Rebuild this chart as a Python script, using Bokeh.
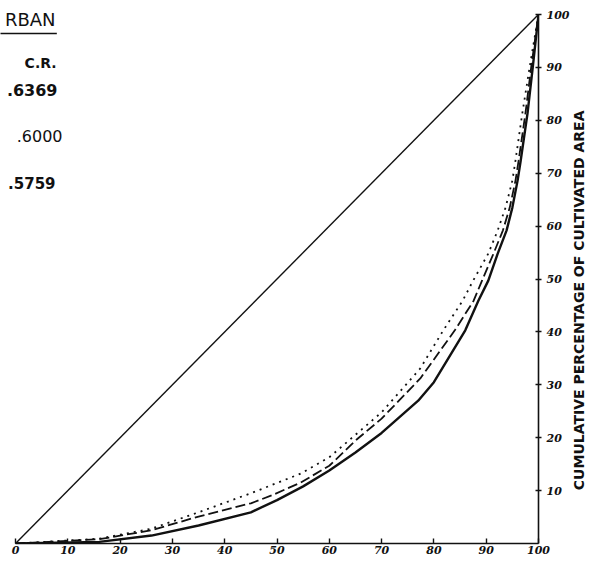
import math
from bokeh.plotting import figure
from bokeh.layouts import row
from bokeh.models import Range1d, FixedTicker, Label
from bokeh.embed import file_html
from bokeh.resources import INLINE

# ---- data ----
x_ticks = [0, 10, 20, 30, 40, 50, 60, 70, 80, 90, 100]
y_ticks = [10, 20, 30, 40, 50, 60, 70, 80, 90, 100]

equality_x = [0, 100]
equality_y = [0, 100]

# C.R. .6369 (solid, lowest curve)
x_cr6369 = [0, 16, 26, 35, 45, 50, 55, 60, 65, 70, 77, 80, 86, 88.5, 90.4, 92.2, 93.9, 95.0, 96.0, 96.6, 97.9, 98.9, 100]
y_cr6369 = [0, 0.3, 1.5, 3.4, 5.9, 8.2, 10.8, 13.8, 17.2, 20.9, 27.0, 30.5, 40.3, 45.9, 49.7, 54.8, 59.2, 63.5, 68.6, 72.4, 81.3, 90, 100]

# C.R. .6000 (dashed, middle curve)
x_cr6000 = [0, 16, 26, 35, 45, 49, 54.5, 60, 65.4, 70, 77.4, 84, 87.6, 89.2, 91.4, 93.2, 94.5, 95.6, 96.2, 97.5, 98.6, 100]
y_cr6000 = [0, 0.8, 2.5, 5.1, 7.6, 9.1, 11.5, 14.7, 19.8, 23.6, 31.2, 40.3, 45.9, 49.7, 54.8, 59.2, 63.5, 68.6, 72.4, 81.3, 90, 100]

# C.R. .5759 (dotted, highest curve)
x_cr5759 = [0, 16, 26, 35, 45, 54.5, 60, 70, 77.4, 81.8, 85.5, 87.5, 90.4, 92.2, 93.7, 95.0, 95.6, 96.9, 98.3, 100]
y_cr5759 = [0, 0.9, 2.8, 5.9, 9.5, 13.2, 16.3, 24.8, 33.1, 40.3, 45.9, 49.7, 54.8, 59.2, 63.5, 68.6, 72.4, 81.3, 90, 100]

legend_title = "RBAN"
legend_head = "C.R."
legend_values = [".6369", ".6000", ".5759"]
y_title = "CUMULATIVE PERCENTAGE OF CULTIVATED AREA"

INK = "#111111"

p = figure(frame_width=538, frame_height=543,
           x_range=Range1d(-2.87, 100), y_range=Range1d(0, 102.65),
           y_axis_location="right", output_backend="svg",
           toolbar_location=None,
           min_border_left=0, min_border_top=0, min_border_right=0,
           min_border_bottom=0)
p.background_fill_color = "white"
p.border_fill_color = "white"
p.outline_line_color = None
p.grid.visible = False

# axes
xa = p.xaxis[0]
xa.ticker = FixedTicker(ticks=x_ticks)
xa.bounds = (0, 100)
xa.minor_tick_line_color = None
xa.major_tick_in = 5
xa.major_tick_out = 0
xa.major_label_standoff = 2
xa.axis_line_color = INK
xa.axis_line_width = 1.6
xa.major_tick_line_color = INK
xa.major_tick_line_width = 1.4
xa.major_label_text_font = "DejaVu Serif"
xa.major_label_text_font_style = "bold italic"
xa.major_label_text_font_size = "11px"
xa.major_label_text_color = INK

ya = p.yaxis[0]
ya.ticker = FixedTicker(ticks=y_ticks)
ya.bounds = (0, 100)
ya.minor_tick_line_color = None
ya.major_tick_in = 3
ya.major_tick_out = 3
ya.major_label_standoff = 5
ya.axis_line_color = INK
ya.axis_line_width = 1.6
ya.major_tick_line_color = INK
ya.major_tick_line_width = 1.4
ya.major_label_text_font = "DejaVu Serif"
ya.major_label_text_font_style = "bold italic"
ya.major_label_text_font_size = "11px"
ya.major_label_text_color = INK

# lines
p.line(equality_x, equality_y, line_color=INK, line_width=1.4)
p.line(x_cr6369, y_cr6369, line_color=INK, line_width=2.4)
p.line(x_cr6000, y_cr6000, line_color=INK, line_width=1.8, line_dash="10 4")
p.line(x_cr5759, y_cr5759, line_color=INK, line_width=1.8, line_dash="2 5")

# legend block (top-left, partially cut in the source)
p.add_layout(Label(x=7.65, y=99.0, text=legend_title, text_align="right",
                   text_baseline="middle", text_font="DejaVu Sans",
                   text_font_size="18px", text_color=INK))
p.line([-3, 7.9], [96.4, 96.4], line_color=INK, line_width=1.6)
p.add_layout(Label(x=7.85, y=90.9, text=legend_head, text_align="right",
                   text_baseline="middle", text_font="DejaVu Sans",
                   text_font_style="bold", text_font_size="14px", text_color=INK))
val_x = [8.03, 8.99, 7.65]
val_y = [85.8, 77.1, 68.2]
val_style = ["bold", "normal", "bold"]
val_size = ["16px", "16px", "15px"]
for t_, vx, vy, st, sz in zip(legend_values, val_x, val_y, val_style, val_size):
    p.add_layout(Label(x=vx, y=vy, text=t_, text_align="right",
                       text_baseline="middle", text_font="DejaVu Sans",
                       text_font_style=st, text_font_size=sz, text_color=INK))

# narrow side panel carrying the vertical axis title
t = figure(width=22, height=558, x_range=Range1d(0, 22), y_range=Range1d(0, 558),
           output_backend="svg", toolbar_location=None,
           x_axis_location=None, y_axis_location=None,
           min_border=0)
t.outline_line_color = None
t.grid.visible = False
t.background_fill_color = "white"
t.border_fill_color = "white"
t.add_layout(Label(x=6, y=251, text=y_title, angle=math.pi / 2,
                   text_align="center", text_baseline="middle",
                   text_font="DejaVu Sans", text_font_style="bold",
                   text_font_size="14px", text_color=INK))

layout = row(p, t, spacing=0)
open("out.html", "w").write(file_html(layout, INLINE))
